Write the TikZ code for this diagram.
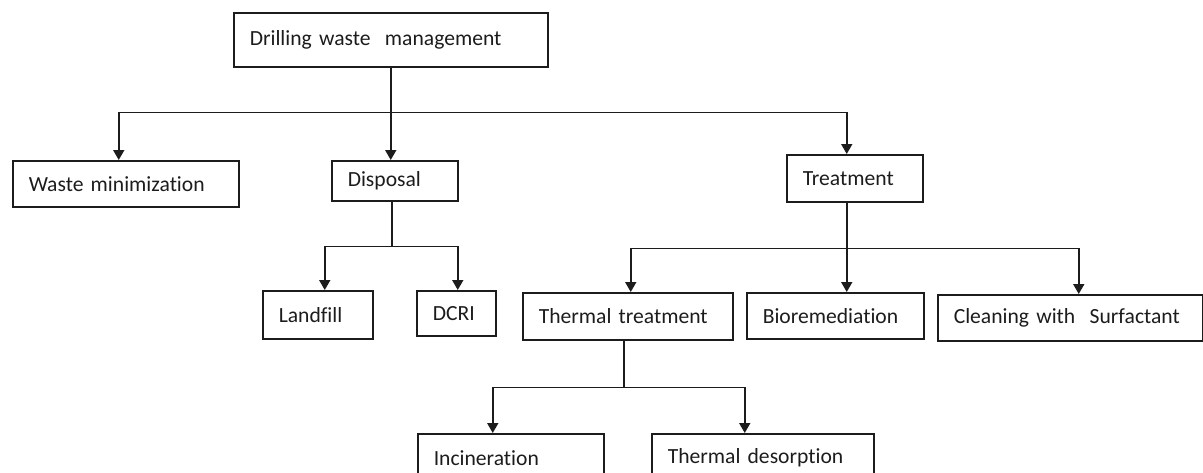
\documentclass[tikz,border=0pt]{standalone}
\usepackage{fontspec}
\setmainfont{Carlito}[Ligatures=NoCommon]
\usetikzlibrary{arrows.meta,positioning}
\definecolor{ChartInk}{HTML}{1C1C1C}

\begin{document}
\begin{tikzpicture}[x=1pt,y=-1pt,
  box/.style={draw=ChartInk,line width=1.5pt,anchor=north west,inner xsep=16pt,inner ysep=0pt,align=left,text=ChartInk,font=\fontsize{21.6}{24}\selectfont},
  link/.style={draw=ChartInk,line width=1.8pt,-{Triangle[width=11pt,length=10pt]}}]
  \useasboundingbox (0,0) rectangle (1203,472);
  % boxes, placed by their upper left corner
  \node[box,text width=282pt,minimum height=54pt] (top) at (233,12) {Drilling~waste~~management};
  \node[box,text width=194pt,minimum height=46pt] (waste) at (12,160) {Waste~minimization};
  \node[box,text width=94pt,minimum height=40pt] (disp) at (331,160) {Disposal};
  \node[box,text width=104pt,minimum height=47pt] (treat) at (786,154) {Treatment};
  \node[box,text width=78pt,minimum height=48pt] (land) at (262,290) {Landfill};
  \node[box,text width=47pt,minimum height=45pt] (dcri) at (416,290) {DCRI};
  \node[box,text width=178pt,minimum height=47pt] (therm) at (522,292) {Thermal~treatment};
  \node[box,text width=145pt,minimum height=46pt] (bio) at (746,292) {Bioremediation};
  \node[box,text width=233pt,minimum height=46pt] (clean) at (937,294) {Cleaning~with~~Surfactant};
  \node[box,text width=154pt,minimum height=48pt] (incin) at (417,433) {Incineration};
  \node[box,text width=190pt,minimum height=48pt] (desorp) at (651,433) {Thermal~desorption};
  % tree connectors
  \draw[link] (top.south) -- ++(0,45) -| ([xshift=-7pt]waste.north);
  \draw[link] (top.south) -- (top.south |- disp.north);
  \draw[link] (top.south) -- ++(0,45) -| ([xshift=-8pt]treat.north);
  \foreach \kid/\dx in {land/7,dcri/1.5}{\draw[link] ([xshift=-3pt]disp.south) -- ++(0,45) -| ([xshift=\dx pt]\kid.north);}
  \foreach \kid/\dx in {therm/3,bio/11.5,clean/8.5}{\draw[link] ([xshift=-8pt]treat.south) -- ++(0,46) -| ([xshift=\dx pt]\kid.north);}
  \foreach \kid in {incin,desorp}{\draw[link] ([xshift=-4pt]therm.south) -- ++(0,47) -| ([xshift=-18pt]\kid.north);}
\end{tikzpicture}
\end{document}
